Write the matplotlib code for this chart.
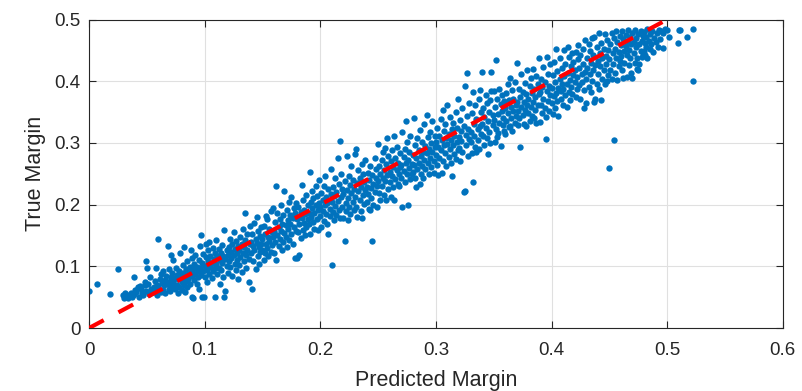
import numpy as np
import matplotlib
matplotlib.use('Agg')
import matplotlib.pyplot as plt

plt.rcParams['font.family'] = ['Liberation Sans', 'DejaVu Sans']

# (predicted margin, true margin) per sample, grouped by predicted-margin range
pts_000_006 = [
    (0.000, 0.060), (0.007, 0.071), (0.018, 0.055), (0.025, 0.095),
    (0.029, 0.053), (0.030, 0.049), (0.031, 0.056), (0.032, 0.051), (0.033, 0.054), (0.034, 0.048),
    (0.035, 0.052), (0.036, 0.057), (0.037, 0.050), (0.038, 0.053), (0.039, 0.082), (0.039, 0.055),
    (0.040, 0.061), (0.041, 0.058), (0.042, 0.066), (0.043, 0.051), (0.044, 0.068), (0.045, 0.063),
    (0.046, 0.056), (0.047, 0.053), (0.048, 0.069), (0.048, 0.075), (0.049, 0.109), (0.049, 0.060),
    (0.050, 0.097), (0.051, 0.071), (0.052, 0.055), (0.053, 0.083), (0.054, 0.064), (0.055, 0.059),
    (0.056, 0.067), (0.057, 0.077), (0.058, 0.098), (0.058, 0.061), (0.059, 0.070), (0.059, 0.054),
]
pts_006_010 = [
    (0.060, 0.144), (0.060, 0.066), (0.061, 0.080), (0.062, 0.058), (0.062, 0.088), (0.063, 0.073),
    (0.064, 0.062), (0.064, 0.092), (0.065, 0.069), (0.066, 0.078), (0.066, 0.056), (0.067, 0.085),
    (0.068, 0.133), (0.068, 0.071), (0.069, 0.064), (0.069, 0.095),
    (0.070, 0.076), (0.070, 0.060), (0.071, 0.118), (0.071, 0.083), (0.072, 0.068), (0.072, 0.090),
    (0.073, 0.110), (0.073, 0.074), (0.074, 0.063), (0.074, 0.081), (0.075, 0.097), (0.076, 0.070),
    (0.076, 0.086), (0.077, 0.057), (0.077, 0.079), (0.078, 0.093), (0.078, 0.066), (0.079, 0.121),
    (0.079, 0.084),
    (0.080, 0.075), (0.080, 0.062), (0.081, 0.090), (0.081, 0.102), (0.082, 0.132), (0.082, 0.070),
    (0.083, 0.058), (0.083, 0.083), (0.084, 0.095), (0.084, 0.077), (0.085, 0.108), (0.085, 0.066),
    (0.086, 0.088), (0.086, 0.080), (0.087, 0.099), (0.087, 0.072), (0.088, 0.127), (0.088, 0.091),
    (0.089, 0.051), (0.089, 0.085), (0.089, 0.114),
    (0.090, 0.049), (0.090, 0.096), (0.091, 0.078), (0.091, 0.104), (0.092, 0.088), (0.092, 0.118),
    (0.093, 0.071), (0.093, 0.099), (0.094, 0.092), (0.094, 0.083), (0.095, 0.110), (0.095, 0.064),
    (0.096, 0.133), (0.096, 0.097), (0.097, 0.151), (0.097, 0.086), (0.098, 0.051), (0.098, 0.105),
    (0.099, 0.093), (0.099, 0.120), (0.0995, 0.050),
]
pts_010_015 = [
    (0.100, 0.101), (0.100, 0.082), (0.101, 0.115), (0.101, 0.137), (0.102, 0.094), (0.102, 0.074),
    (0.103, 0.108), (0.103, 0.126), (0.104, 0.139), (0.104, 0.088), (0.105, 0.099), (0.105, 0.117),
    (0.106, 0.081), (0.106, 0.106), (0.107, 0.130), (0.107, 0.092), (0.108, 0.112), (0.109, 0.050),
    (0.109, 0.097), (0.109, 0.122),
    (0.110, 0.104), (0.110, 0.143), (0.111, 0.087), (0.111, 0.116), (0.112, 0.098), (0.112, 0.128),
    (0.113, 0.110), (0.113, 0.071), (0.114, 0.121), (0.114, 0.094), (0.115, 0.135), (0.115, 0.106),
    (0.116, 0.083), (0.116, 0.117), (0.117, 0.050), (0.117, 0.159), (0.118, 0.060), (0.118, 0.112),
    (0.119, 0.126), (0.119, 0.100),
    (0.120, 0.119), (0.120, 0.090), (0.121, 0.132), (0.121, 0.108), (0.122, 0.145), (0.122, 0.099),
    (0.123, 0.124), (0.123, 0.113), (0.124, 0.085), (0.124, 0.137), (0.125, 0.156), (0.125, 0.118),
    (0.126, 0.104), (0.126, 0.128), (0.127, 0.094), (0.127, 0.141), (0.128, 0.121), (0.128, 0.110),
    (0.129, 0.133), (0.129, 0.079),
    (0.130, 0.126), (0.130, 0.102), (0.131, 0.148), (0.131, 0.115), (0.132, 0.137), (0.132, 0.091),
    (0.133, 0.122), (0.133, 0.160), (0.134, 0.109), (0.134, 0.131), (0.135, 0.186), (0.135, 0.143),
    (0.136, 0.118), (0.136, 0.098), (0.137, 0.127), (0.137, 0.152), (0.138, 0.075), (0.138, 0.112),
    (0.139, 0.136), (0.139, 0.166),
    (0.140, 0.140), (0.140, 0.121), (0.141, 0.064), (0.141, 0.152), (0.142, 0.108), (0.142, 0.133),
    (0.143, 0.170), (0.143, 0.126), (0.144, 0.145), (0.144, 0.096), (0.145, 0.180), (0.145, 0.138),
    (0.146, 0.117), (0.146, 0.158), (0.147, 0.131), (0.147, 0.104), (0.148, 0.149), (0.148, 0.124),
    (0.149, 0.163), (0.149, 0.136),
]
pts_015_020 = [
    (0.150, 0.144), (0.150, 0.127), (0.151, 0.166), (0.151, 0.110), (0.152, 0.121), (0.152, 0.153),
    (0.153, 0.137), (0.153, 0.182), (0.154, 0.176), (0.154, 0.130), (0.155, 0.148), (0.155, 0.116),
    (0.156, 0.161), (0.156, 0.141), (0.157, 0.124), (0.157, 0.190), (0.158, 0.155), (0.158, 0.134),
    (0.159, 0.194), (0.159, 0.147),
    (0.160, 0.158), (0.160, 0.121), (0.161, 0.172), (0.161, 0.140), (0.162, 0.230), (0.162, 0.111),
    (0.163, 0.151), (0.163, 0.186), (0.164, 0.163), (0.164, 0.133), (0.165, 0.176), (0.165, 0.145),
    (0.166, 0.199), (0.166, 0.157), (0.167, 0.126), (0.167, 0.168), (0.168, 0.140), (0.168, 0.183),
    (0.169, 0.222), (0.169, 0.154),
    (0.170, 0.167), (0.170, 0.148), (0.171, 0.192), (0.171, 0.131), (0.172, 0.175), (0.172, 0.160),
    (0.173, 0.204), (0.173, 0.142), (0.174, 0.183), (0.174, 0.169), (0.175, 0.152), (0.175, 0.212),
    (0.176, 0.178), (0.176, 0.137), (0.177, 0.195), (0.177, 0.163), (0.178, 0.113), (0.178, 0.186),
    (0.179, 0.203), (0.179, 0.157),
    (0.180, 0.114), (0.180, 0.176), (0.181, 0.155), (0.181, 0.197), (0.182, 0.118), (0.182, 0.168),
    (0.183, 0.188), (0.183, 0.146), (0.184, 0.232), (0.184, 0.179), (0.185, 0.159), (0.185, 0.208),
    (0.186, 0.171), (0.186, 0.192), (0.187, 0.150), (0.187, 0.185), (0.188, 0.216), (0.188, 0.164),
    (0.189, 0.199), (0.189, 0.177),
    (0.190, 0.187), (0.190, 0.168), (0.191, 0.253), (0.191, 0.153), (0.192, 0.205), (0.192, 0.180),
    (0.193, 0.194), (0.193, 0.222), (0.194, 0.172), (0.194, 0.210), (0.195, 0.186), (0.195, 0.160),
    (0.196, 0.231), (0.196, 0.199), (0.197, 0.176), (0.197, 0.214), (0.198, 0.159), (0.198, 0.192),
    (0.199, 0.240), (0.199, 0.203),
]
pts_020_025 = [
    (0.200, 0.196), (0.200, 0.181), (0.201, 0.219), (0.201, 0.164), (0.202, 0.207), (0.202, 0.190),
    (0.203, 0.230), (0.203, 0.174), (0.204, 0.199), (0.204, 0.247), (0.205, 0.185), (0.205, 0.213),
    (0.206, 0.168), (0.206, 0.202), (0.207, 0.152), (0.207, 0.226), (0.208, 0.193), (0.208, 0.181),
    (0.209, 0.218), (0.209, 0.257),
    (0.210, 0.102), (0.210, 0.205), (0.211, 0.188), (0.211, 0.229), (0.212, 0.175), (0.212, 0.214),
    (0.213, 0.198), (0.213, 0.243), (0.214, 0.183), (0.214, 0.221), (0.215, 0.275), (0.215, 0.206),
    (0.216, 0.192), (0.216, 0.234), (0.217, 0.303), (0.217, 0.178), (0.218, 0.212), (0.218, 0.249),
    (0.219, 0.196), (0.219, 0.226),
    (0.220, 0.179), (0.220, 0.217), (0.221, 0.141), (0.221, 0.238), (0.222, 0.203), (0.222, 0.189),
    (0.223, 0.279), (0.223, 0.224), (0.224, 0.175), (0.224, 0.210), (0.225, 0.246), (0.225, 0.196),
    (0.226, 0.232), (0.226, 0.185), (0.227, 0.219), (0.227, 0.262), (0.228, 0.205), (0.228, 0.240),
    (0.229, 0.191), (0.229, 0.226),
    (0.230, 0.282), (0.230, 0.212), (0.231, 0.291), (0.231, 0.197), (0.232, 0.180), (0.232, 0.235),
    (0.233, 0.222), (0.233, 0.256), (0.234, 0.208), (0.234, 0.243), (0.235, 0.189), (0.235, 0.229),
    (0.236, 0.178), (0.236, 0.266), (0.237, 0.216), (0.237, 0.249), (0.238, 0.201), (0.238, 0.237),
    (0.239, 0.224), (0.239, 0.272),
    (0.240, 0.229), (0.240, 0.205), (0.241, 0.252), (0.241, 0.218), (0.242, 0.193), (0.242, 0.240),
    (0.243, 0.191), (0.243, 0.263), (0.244, 0.227), (0.244, 0.211), (0.245, 0.141), (0.245, 0.248),
    (0.246, 0.234), (0.246, 0.199), (0.247, 0.276), (0.247, 0.221), (0.248, 0.243), (0.248, 0.257),
    (0.249, 0.196), (0.249, 0.231),
]
pts_025_030 = [
    (0.250, 0.298), (0.250, 0.238), (0.251, 0.219), (0.251, 0.262), (0.252, 0.250), (0.252, 0.207),
    (0.253, 0.273), (0.253, 0.230), (0.254, 0.244), (0.254, 0.285), (0.255, 0.215), (0.255, 0.256),
    (0.256, 0.292), (0.256, 0.239), (0.257, 0.207), (0.257, 0.266), (0.258, 0.308), (0.258, 0.248),
    (0.259, 0.226), (0.259, 0.279),
    (0.260, 0.253), (0.260, 0.236), (0.261, 0.270), (0.261, 0.213), (0.262, 0.288), (0.262, 0.247),
    (0.263, 0.229), (0.263, 0.261), (0.264, 0.311), (0.264, 0.207), (0.265, 0.275), (0.265, 0.242),
    (0.266, 0.256), (0.266, 0.294), (0.267, 0.233), (0.267, 0.267), (0.268, 0.230), (0.268, 0.249),
    (0.269, 0.283), (0.269, 0.261),
    (0.270, 0.265), (0.270, 0.243), (0.271, 0.318), (0.271, 0.196), (0.272, 0.278), (0.272, 0.254),
    (0.273, 0.237), (0.273, 0.291), (0.274, 0.336), (0.274, 0.268), (0.275, 0.250), (0.275, 0.302),
    (0.276, 0.199), (0.276, 0.273), (0.277, 0.259), (0.277, 0.285), (0.278, 0.241), (0.278, 0.312),
    (0.279, 0.266), (0.279, 0.249),
    (0.280, 0.253), (0.280, 0.281), (0.281, 0.341), (0.281, 0.264), (0.282, 0.296), (0.282, 0.243),
    (0.283, 0.228), (0.283, 0.275), (0.284, 0.308), (0.284, 0.257), (0.285, 0.289), (0.285, 0.268),
    (0.286, 0.234), (0.286, 0.321), (0.287, 0.279), (0.287, 0.250), (0.288, 0.301), (0.288, 0.262),
    (0.289, 0.286), (0.289, 0.244),
    (0.290, 0.272), (0.290, 0.330), (0.291, 0.295), (0.291, 0.258), (0.292, 0.346), (0.292, 0.283),
    (0.293, 0.267), (0.293, 0.309), (0.294, 0.249), (0.294, 0.290), (0.295, 0.318), (0.295, 0.276),
    (0.296, 0.261), (0.296, 0.300), (0.297, 0.285), (0.297, 0.336), (0.298, 0.270), (0.298, 0.252),
    (0.299, 0.312), (0.299, 0.293),
]
pts_030_035 = [
    (0.300, 0.302), (0.300, 0.281), (0.301, 0.265), (0.301, 0.324), (0.302, 0.248), (0.302, 0.293),
    (0.303, 0.311), (0.303, 0.276), (0.304, 0.339), (0.304, 0.288), (0.305, 0.251), (0.305, 0.305),
    (0.306, 0.354), (0.306, 0.270), (0.307, 0.319), (0.307, 0.296), (0.308, 0.283), (0.308, 0.330),
    (0.309, 0.262), (0.309, 0.308),
    (0.310, 0.361), (0.310, 0.299), (0.311, 0.315), (0.311, 0.278), (0.312, 0.290), (0.312, 0.342),
    (0.313, 0.305), (0.313, 0.268), (0.314, 0.246), (0.314, 0.322), (0.315, 0.296), (0.315, 0.333),
    (0.316, 0.282), (0.316, 0.312), (0.317, 0.350), (0.317, 0.274), (0.318, 0.301), (0.318, 0.325),
    (0.319, 0.371), (0.319, 0.288),
    (0.320, 0.310), (0.320, 0.292), (0.321, 0.338), (0.321, 0.270), (0.322, 0.319), (0.322, 0.303),
    (0.323, 0.285), (0.323, 0.356), (0.324, 0.220), (0.324, 0.328), (0.325, 0.393), (0.325, 0.222),
    (0.326, 0.313), (0.326, 0.296), (0.327, 0.414), (0.327, 0.343), (0.328, 0.279), (0.328, 0.322),
    (0.329, 0.307), (0.329, 0.365),
    (0.330, 0.318), (0.330, 0.301), (0.331, 0.349), (0.331, 0.284), (0.332, 0.236), (0.332, 0.383),
    (0.333, 0.330), (0.333, 0.312), (0.334, 0.294), (0.334, 0.361), (0.335, 0.286), (0.335, 0.339),
    (0.336, 0.322), (0.336, 0.305), (0.337, 0.372), (0.337, 0.290), (0.338, 0.386), (0.338, 0.327),
    (0.339, 0.314), (0.339, 0.350),
    (0.340, 0.415), (0.340, 0.331), (0.341, 0.311), (0.341, 0.356), (0.342, 0.297), (0.342, 0.342),
    (0.343, 0.325), (0.343, 0.377), (0.344, 0.308), (0.344, 0.364), (0.345, 0.282), (0.345, 0.336),
    (0.346, 0.350), (0.346, 0.318), (0.347, 0.300), (0.347, 0.370), (0.348, 0.415), (0.348, 0.385),
    (0.349, 0.329), (0.349, 0.345),
]
pts_035_040 = [
    (0.350, 0.384), (0.350, 0.338), (0.351, 0.301), (0.351, 0.359), (0.352, 0.434), (0.352, 0.322),
    (0.353, 0.310), (0.353, 0.372), (0.354, 0.316), (0.354, 0.347), (0.355, 0.388), (0.355, 0.333),
    (0.356, 0.363), (0.356, 0.295), (0.357, 0.352), (0.357, 0.378), (0.358, 0.329), (0.358, 0.341),
    (0.359, 0.368), (0.359, 0.320),
    (0.360, 0.314), (0.360, 0.357), (0.361, 0.381), (0.361, 0.336), (0.362, 0.348), (0.362, 0.395),
    (0.363, 0.326), (0.363, 0.369), (0.364, 0.405), (0.364, 0.327), (0.365, 0.358), (0.365, 0.340),
    (0.366, 0.386), (0.366, 0.319), (0.367, 0.372), (0.367, 0.351), (0.368, 0.333), (0.368, 0.398),
    (0.369, 0.362), (0.369, 0.344),
    (0.370, 0.429), (0.370, 0.367), (0.371, 0.329), (0.371, 0.352), (0.372, 0.388), (0.372, 0.340),
    (0.373, 0.294), (0.373, 0.375), (0.374, 0.358), (0.374, 0.411), (0.375, 0.345), (0.375, 0.382),
    (0.376, 0.366), (0.376, 0.331), (0.377, 0.397), (0.377, 0.354), (0.378, 0.327), (0.378, 0.379),
    (0.379, 0.418), (0.379, 0.362),
    (0.380, 0.371), (0.380, 0.348), (0.381, 0.392), (0.381, 0.336), (0.382, 0.359), (0.382, 0.405),
    (0.383, 0.381), (0.383, 0.343), (0.384, 0.420), (0.384, 0.366), (0.385, 0.340), (0.385, 0.388),
    (0.386, 0.354), (0.386, 0.374), (0.387, 0.408), (0.387, 0.332), (0.388, 0.362), (0.388, 0.396),
    (0.389, 0.437), (0.389, 0.379),
    (0.390, 0.334), (0.390, 0.383), (0.391, 0.361), (0.391, 0.404), (0.392, 0.349), (0.392, 0.391),
    (0.393, 0.423), (0.393, 0.372), (0.394, 0.357), (0.394, 0.399), (0.395, 0.306), (0.395, 0.342),
    (0.396, 0.440), (0.396, 0.385), (0.397, 0.368), (0.397, 0.412), (0.398, 0.352), (0.398, 0.393),
    (0.399, 0.377), (0.399, 0.428),
]
pts_040_045 = [
    (0.400, 0.389), (0.400, 0.365), (0.401, 0.410), (0.401, 0.347), (0.402, 0.376), (0.402, 0.431),
    (0.403, 0.398), (0.403, 0.356), (0.404, 0.453), (0.404, 0.381), (0.405, 0.368), (0.405, 0.416),
    (0.406, 0.389), (0.406, 0.343), (0.407, 0.404), (0.407, 0.438), (0.408, 0.372), (0.408, 0.384),
    (0.409, 0.422), (0.409, 0.395),
    (0.410, 0.387), (0.410, 0.361), (0.411, 0.450), (0.411, 0.408), (0.412, 0.377), (0.412, 0.428),
    (0.413, 0.359), (0.413, 0.396), (0.414, 0.455), (0.414, 0.414), (0.415, 0.383), (0.415, 0.440),
    (0.416, 0.402), (0.416, 0.370), (0.417, 0.425), (0.417, 0.391), (0.418, 0.446), (0.418, 0.379),
    (0.419, 0.410), (0.419, 0.432),
    (0.420, 0.398), (0.420, 0.419), (0.421, 0.375), (0.421, 0.447), (0.422, 0.407), (0.422, 0.387),
    (0.423, 0.436), (0.423, 0.459), (0.424, 0.394), (0.424, 0.421), (0.425, 0.372), (0.425, 0.442),
    (0.426, 0.411), (0.426, 0.399), (0.427, 0.452), (0.427, 0.428), (0.428, 0.357), (0.428, 0.386),
    (0.429, 0.467), (0.429, 0.415),
    (0.430, 0.365), (0.430, 0.404), (0.431, 0.438), (0.431, 0.422), (0.432, 0.391), (0.432, 0.461),
    (0.433, 0.412), (0.433, 0.449), (0.434, 0.383), (0.434, 0.430), (0.435, 0.470), (0.435, 0.401),
    (0.436, 0.418), (0.436, 0.443), (0.437, 0.472), (0.437, 0.366), (0.438, 0.371), (0.438, 0.427),
    (0.439, 0.455), (0.439, 0.396),
    (0.440, 0.433), (0.440, 0.412), (0.441, 0.478), (0.441, 0.388), (0.442, 0.446), (0.442, 0.425),
    (0.443, 0.370), (0.443, 0.462), (0.444, 0.404), (0.444, 0.437), (0.445, 0.453), (0.445, 0.419),
    (0.446, 0.476), (0.446, 0.395), (0.447, 0.441), (0.447, 0.428), (0.448, 0.400), (0.448, 0.467),
    (0.449, 0.410), (0.449, 0.450),
]
pts_045_053 = [
    (0.450, 0.260), (0.450, 0.436), (0.451, 0.461), (0.451, 0.418), (0.452, 0.479), (0.452, 0.404),
    (0.453, 0.445), (0.453, 0.428), (0.454, 0.305), (0.454, 0.470), (0.455, 0.414), (0.455, 0.452),
    (0.456, 0.437), (0.456, 0.481), (0.457, 0.402), (0.457, 0.463), (0.458, 0.424), (0.458, 0.448),
    (0.459, 0.473), (0.459, 0.433),
    (0.460, 0.458), (0.460, 0.441), (0.461, 0.481), (0.461, 0.419), (0.462, 0.468), (0.462, 0.405),
    (0.463, 0.449), (0.463, 0.430), (0.464, 0.475), (0.464, 0.457), (0.465, 0.407), (0.465, 0.442),
    (0.466, 0.483), (0.466, 0.465), (0.467, 0.426), (0.467, 0.451), (0.468, 0.472), (0.468, 0.437),
    (0.469, 0.460), (0.469, 0.414),
    (0.470, 0.405), (0.470, 0.478), (0.471, 0.445), (0.471, 0.464), (0.472, 0.429), (0.472, 0.483),
    (0.473, 0.455), (0.473, 0.470), (0.474, 0.438), (0.474, 0.420), (0.475, 0.418), (0.475, 0.476),
    (0.476, 0.461), (0.476, 0.428), (0.477, 0.449), (0.477, 0.482), (0.478, 0.466), (0.478, 0.440),
    (0.479, 0.445), (0.479, 0.474),
    (0.480, 0.449), (0.480, 0.480), (0.481, 0.462), (0.481, 0.443), (0.482, 0.471), (0.482, 0.455),
    (0.483, 0.484), (0.483, 0.438), (0.484, 0.466), (0.485, 0.476), (0.485, 0.452), (0.486, 0.460),
    (0.487, 0.481), (0.488, 0.447), (0.489, 0.470),
    (0.490, 0.463), (0.491, 0.478), (0.492, 0.456), (0.493, 0.483), (0.494, 0.469), (0.495, 0.481),
    (0.496, 0.454), (0.496, 0.479), (0.498, 0.485), (0.500, 0.483), (0.502, 0.472), (0.509, 0.462),
    (0.510, 0.483), (0.511, 0.483), (0.517, 0.472), (0.522, 0.485), (0.522, 0.400),
]

ideal = [0.0, 0.5]          # y = x reference
xticks = [0, 0.1, 0.2, 0.3, 0.4, 0.5, 0.6]
xtick_labels = ['0', '0.1', '0.2', '0.3', '0.4', '0.5', '0.6']
yticks = [0, 0.1, 0.2, 0.3, 0.4, 0.5]
ytick_labels = ['0', '0.1', '0.2', '0.3', '0.4', '0.5']

all_pts = (pts_000_006 + pts_006_010 + pts_010_015 + pts_015_020 + pts_020_025 +
           pts_025_030 + pts_030_035 + pts_035_040 + pts_040_045 + pts_045_053)
pred, true = np.array(all_pts).T

INK = '#262626'
fig = plt.figure(figsize=(8.02, 3.91), dpi=100)
ax = fig.add_axes([0.111, 0.161, 0.865, 0.789])

ax.scatter(pred, true, s=21, color='#0072BD', linewidths=0, zorder=2)
ax.plot(ideal, ideal, color='red', lw=3, ls=(0, (4, 4)), zorder=3)

ax.set_xlim(0, 0.6)
ax.set_ylim(0, 0.5)
ax.set_xticks(xticks, xtick_labels)
ax.set_yticks(yticks, ytick_labels)
ax.grid(True, color='#e0e0e0', lw=0.8, zorder=0)
ax.set_axisbelow(True)
for s in ax.spines.values():
    s.set_color(INK)
    s.set_linewidth(0.8)
ax.tick_params(direction='in', top=True, right=True, length=5, width=0.8,
               color=INK, labelcolor=INK, labelsize=13.5)
ax.tick_params(axis='x', pad=10)
ax.tick_params(axis='y', pad=6)
ax.set_xlabel('Predicted Margin', fontsize=15.5, color=INK, labelpad=8)
ax.set_ylabel('True Margin', fontsize=15.5, color=INK, labelpad=6)

fig.savefig('out.png', dpi=100)
